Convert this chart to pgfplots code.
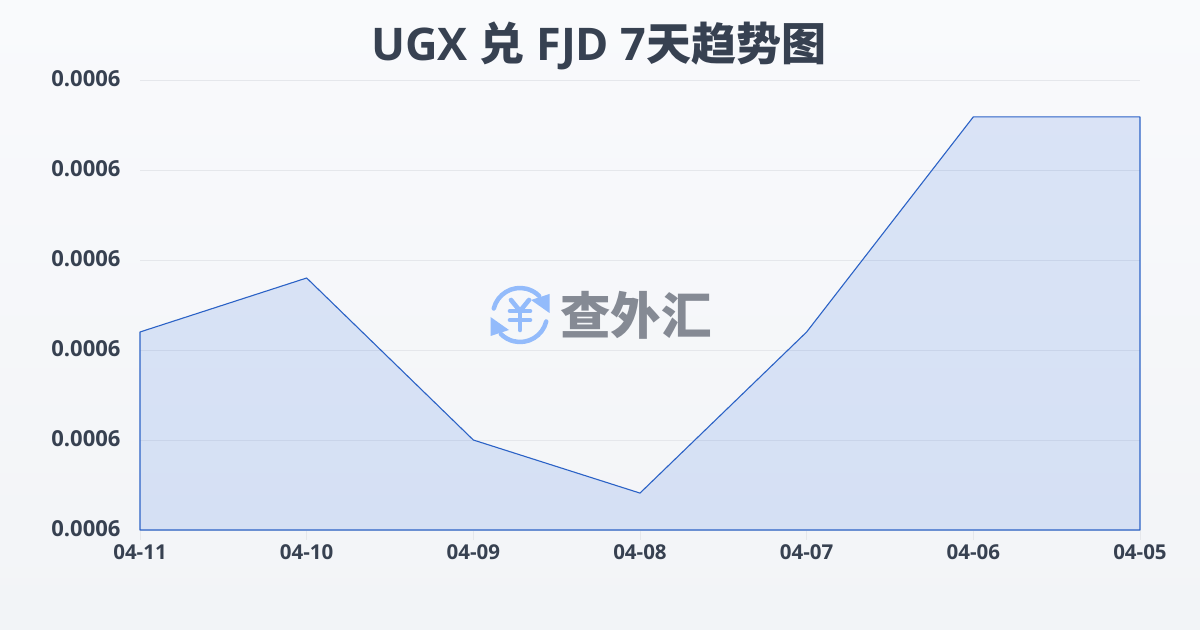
\documentclass[border=0pt]{standalone}
\usepackage{fontspec}
\usepackage{pgfplots}
\pgfplotsset{compat=1.18}
\setmainfont{Open Sans}
\newfontfamily\cjk{Noto Sans CJK SC}
\definecolor{txt}{HTML}{374151}
\definecolor{linec}{HTML}{2B62C6}
\definecolor{fillc}{HTML}{2F6CDF}
\definecolor{gridc}{HTML}{E5E7EB}
\definecolor{bgtop}{HTML}{F9FAFC}
\definecolor{bgbot}{HTML}{F2F4F7}
\definecolor{logob}{HTML}{93BBFB}
\definecolor{logog}{HTML}{858A94}
\pgfplotstableread{
x y
0 0.0006020
1 0.0006080
2 0.0005900
3 0.0005841
4 0.0006020
5 0.0006259
6 0.0006259
}\ratedata
\begin{document}
\begin{tikzpicture}[x=1bp,y=1bp]
\useasboundingbox (0,0) rectangle (1200,630);
\shade[top color=bgtop,bottom color=bgbot] (0,0) rectangle (1200,630);
\node[anchor=center,text=txt,font={\fontsize{45bp}{50bp}\selectfont\bfseries}] at (599,584.5) {UGX {\cjk 兑} FJD 7{\cjk 天趋势图}};
% watermark logo
\begin{scope}[shift={(520,315)},line cap=round]
\draw[logob,line width=4.5bp] (166:27) arc (166:45:27);
\draw[logob,line width=4.5bp] (-14:27) arc (-14:-135:27);
\fill[logob] (29.5,2) -- (29.5,21) -- (11,15) -- cycle;
\fill[logob] (-29.5,-2) -- (-29.5,-21) -- (-11,-15) -- cycle;
\draw[logob,line width=4.6bp] (-9,15) -- (0,4) -- (9,15);
\draw[logob,line width=4.6bp] (-10,4) -- (10,4);
\draw[logob,line width=4.6bp] (-10,-5) -- (10,-5);
\draw[logob,line width=4.6bp] (0,4) -- (0,-15);
\end{scope}
\node[anchor=center,text=logog,font={\fontsize{50.5bp}{54bp}\selectfont\cjk\bfseries}] at (636,315) {查外汇};
\begin{axis}[
  at={(140bp,100bp)},anchor=south west,
  scale only axis,width=1000bp,height=450bp,
  xmin=0,xmax=6,ymin=0.00058,ymax=0.00063,
  axis line style={draw=none},
  xtick=data,xticklabels={04-11,04-10,04-09,04-08,04-07,04-06,04-05},
  ytick={0.00058,0.00059,0.0006,0.00061,0.00062,0.00063},
  yticklabel={\pgfmathprintnumber[/pgf/number format/.cd,fixed,fixed zerofill,precision=4,assume math mode=true]{\tick}},
  scaled y ticks=false,
  ymajorgrids,grid style={gridc,line width=0.8bp},
  tick style={gridc,line width=0.8bp},
  major tick length=10bp,
  ytick style={draw=none},
  xtick pos=bottom,
  tick align=outside,
  yticklabel style={text=txt,font={\fontsize{22bp}{24bp}\selectfont\bfseries},xshift=-6bp,yshift=1bp},
  xticklabel style={text=txt,font={\fontsize{20.5bp}{22bp}\selectfont\bfseries},yshift=-1.5bp},
  clip=false,
]
\addplot[draw=linec,line width=1.1bp,fill=fillc,fill opacity=0.15,line join=round] table[x=x,y=y] {\ratedata} |- (axis cs:0,0.00058) -- cycle;
\end{axis}
\end{tikzpicture}
\end{document}
